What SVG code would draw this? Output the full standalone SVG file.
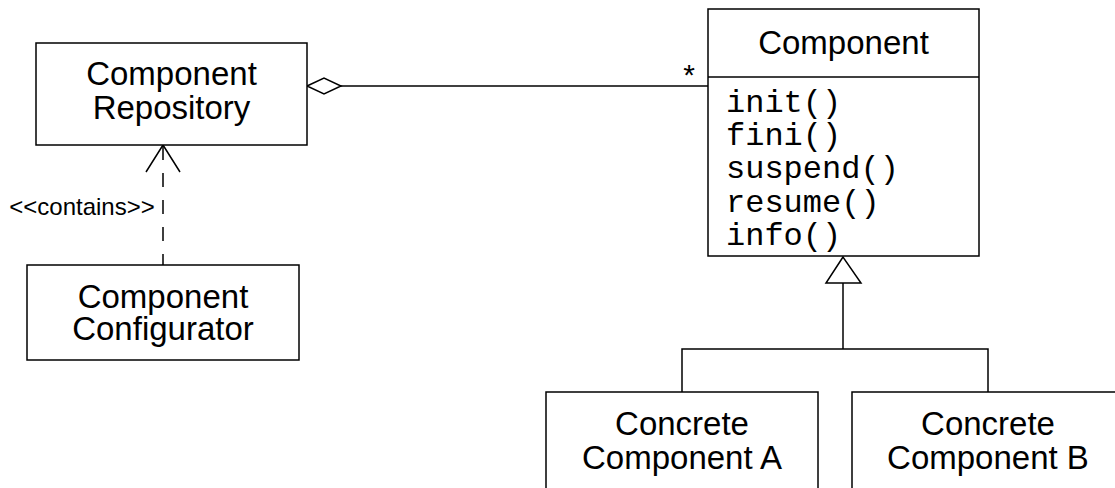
<svg xmlns="http://www.w3.org/2000/svg" width="1115" height="488" viewBox="0 0 1115 488">
<style>
.box{fill:#fff;stroke:#000;stroke-width:1.5}
.ln{fill:none;stroke:#000;stroke-width:1.5}
.t{font-family:"Liberation Sans",Arial,sans-serif;font-size:33px;fill:#000;text-anchor:middle}
.m{font-family:"Liberation Mono","Courier New",monospace;font-size:32px;fill:#000}
.s{font-family:"Liberation Sans",Arial,sans-serif;font-size:24px;fill:#000;text-anchor:middle}
</style>
<rect width="1115" height="488" fill="#fff"/>
<g id="connectors">
  <line class="ln" x1="341" y1="86" x2="708" y2="86"/>
  <polygon class="box" points="307,86 324,78 341,86 324,94"/>
  <text class="t" x="689" y="85" style="font-size:30px">*</text>
  <line class="ln" x1="163" y1="146" x2="163" y2="265" stroke-dasharray="14 13"/>
  <polyline class="ln" points="146,172 163,145 180,172"/>
  <text class="s" x="82" y="215">&lt;&lt;contains&gt;&gt;</text>
  <polyline class="ln" points="843,283 843,349"/>
  <polyline class="ln" points="682,392 682,349 988,349 988,392"/>
  <polygon class="box" points="843,257 826,283 861,283"/>
</g>
<g id="repository">
  <rect class="box" x="36" y="43" width="271" height="102"/>
  <text class="t" x="171.5" y="85">Component</text>
  <text class="t" x="171.5" y="119">Repository</text>
</g>
<g id="configurator">
  <rect class="box" x="27" y="265" width="272" height="95"/>
  <text class="t" x="163" y="308">Component</text>
  <text class="t" x="163" y="340">Configurator</text>
</g>
<g id="component">
  <rect class="box" x="708" y="9" width="271" height="247"/>
  <line class="ln" x1="708" y1="77" x2="979" y2="77"/>
  <text class="t" x="843.5" y="54">Component</text>
  <text class="m" x="726" y="112">init()</text>
  <text class="m" x="726" y="145">fini()</text>
  <text class="m" x="726" y="178">suspend()</text>
  <text class="m" x="726" y="212">resume()</text>
  <text class="m" x="726" y="245">info()</text>
</g>
<g id="concreteA">
  <rect class="box" x="546" y="392" width="272" height="110"/>
  <text class="t" x="682" y="435">Concrete</text>
  <text class="t" x="682" y="469">Component A</text>
</g>
<g id="concreteB">
  <rect class="box" x="852" y="392" width="280" height="110"/>
  <text class="t" x="988" y="435">Concrete</text>
  <text class="t" x="988" y="469">Component B</text>
</g>
</svg>
